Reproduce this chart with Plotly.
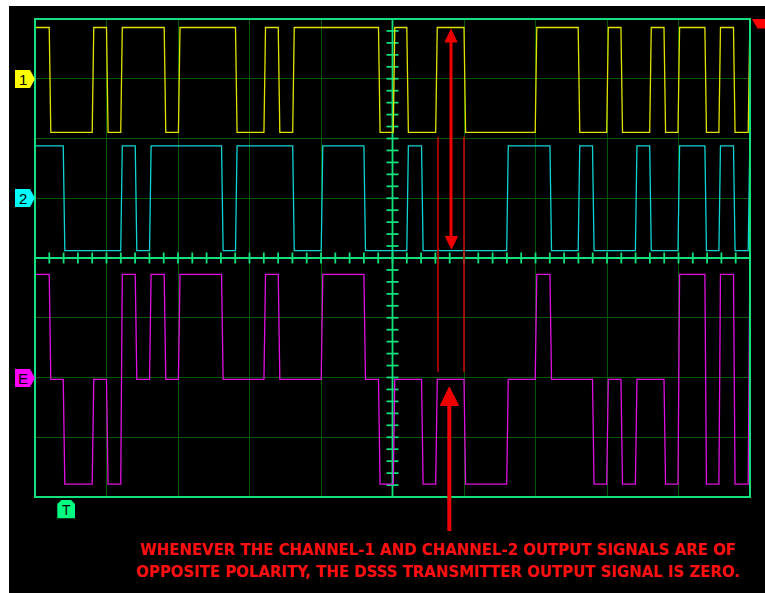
import plotly.graph_objects as go

# ---------------- data (time in divisions 0..10, levels in logic units) -------------
ch1_start = 1
ch1_edges = [0.210, 0.811, 1.011, 1.210, 1.818, 2.017, 2.815, 3.213, 3.413, 3.615,
             4.815, 5.021, 5.211, 5.615, 6.011, 7.007, 7.608, 8.007, 8.206, 8.608,
             8.808, 9.004, 9.380, 9.576, 9.780, 9.986]
ch1_levels = [-1, 1, -1, 1, -1, 1, -1, 1, -1, 1,
              -1, 1, -1, 1, -1, 1, -1, 1, -1, 1,
              -1, 1, -1, 1, -1, 1]

ch2_start = 1
ch2_edges = [0.406, 1.210, 1.413, 1.613, 2.620, 2.815, 3.615, 4.014, 4.611, 5.211,
             5.417, 6.608, 7.213, 7.608, 7.808, 8.408, 8.608, 9.004, 9.380, 9.576,
             9.780, 9.986]
ch2_levels = [-1, 1, -1, 1, -1, 1, -1, 1, -1, 1,
              -1, 1, -1, 1, -1, 1, -1, 1, -1, 1,
              -1, 1]

e_start = 2
e_edges = [0.210, 0.406, 0.811, 1.011, 1.210, 1.413, 1.613, 1.818, 2.017, 2.620,
           3.213, 3.413, 4.014, 4.611, 4.815, 5.021, 5.417, 5.615, 6.011, 6.608,
           7.007, 7.213, 7.808, 8.007, 8.206, 8.408, 8.808, 9.004, 9.380, 9.576,
           9.780, 9.986]
e_levels = [0, -2, 0, -2, 2, 0, 2, 0, 2, 0,
            2, 0, 2, 0, -2, 0, -2, 0, -2, 0,
            2, 0, -2, 0, -2, 0, -2, 2, -2, 2,
            -2, 2]

note_lines = ["WHENEVER THE CHANNEL-1 AND CHANNEL-2 OUTPUT SIGNALS ARE OF",
              "OPPOSITE POLARITY, THE DSSS TRANSMITTER OUTPUT SIGNAL IS ZERO."]

# ---------------- styling / geometry ----------------
W, H = 765, 593
L, R, T, B = 35, 750, 19, 497          # plot area in pixels
GAIN = 0.878                            # divisions per logic unit
RAMP = 0.011                            # half width of drawn edge (div)
BRIGHT = "#12e07c"
GRID = "#005800"
YEL, CYA, MAG = "#e2e200", "#10d4d4", "#e010e0"


def xp(px):
    return (px - L) / (R - L)


def yp(py):
    return (B - py) / (B - T)


def path(points):
    s = "M " + " L ".join(f"{xp(a):.5f},{yp(b):.5f}" for a, b in points)
    return s + " Z"


def wave(start, edges, levels, offset):
    xs, ys = [0.0], [offset + start * GAIN]
    cur = start
    for t, lv in zip(edges, levels):
        xs += [t - RAMP, t + RAMP]
        ys += [offset + cur * GAIN, offset + lv * GAIN]
        cur = lv
    xs.append(10.0)
    ys.append(offset + cur * GAIN)
    return xs, ys


fig = go.Figure()

# graticule centre axes with minor ticks
gx, gy = [0, 10, None, 5, 5, None], [0, 0, None, -4, 4, None]
for k in range(1, 50):
    gx += [0.2 * k, 0.2 * k, None]
    gy += [-0.092, 0.092, None]
for k in range(1, 40):
    gx += [5 - 0.084, 5 + 0.084, None]
    gy += [-4 + 0.2 * k, -4 + 0.2 * k, None]
fig.add_trace(go.Scatter(x=gx, y=gy, mode="lines", line=dict(color=BRIGHT, width=1.8),
                         hoverinfo="skip", showlegend=False))

for (st, ed, lv, off, col) in [(ch1_start, ch1_edges, ch1_levels, 2.98, YEL),
                               (ch2_start, ch2_edges, ch2_levels, 1.0, CYA),
                               (e_start, e_edges, e_levels, -2.03, MAG)]:
    x, y = wave(st, ed, lv, off)
    fig.add_trace(go.Scatter(x=x, y=y, mode="lines", line=dict(color=col, width=1.3),
                             hoverinfo="skip", showlegend=False))

shapes = []
# black screen background
shapes.append(dict(type="rect", xref="paper", yref="paper", x0=xp(9), x1=xp(766),
                   y0=yp(594), y1=yp(6), fillcolor="black", line=dict(width=0), layer="below"))
# border
shapes.append(dict(type="rect", xref="paper", yref="paper", x0=0, x1=1, y0=0, y1=1,
                   line=dict(color=BRIGHT, width=2), layer="above"))
# red cursor lines
for cx in (438, 464):
    shapes.append(dict(type="line", xref="paper", yref="paper", x0=xp(cx), x1=xp(cx),
                       y0=yp(137), y1=yp(372), line=dict(color="#d00000", width=1.5)))
# double-headed arrow
shapes.append(dict(type="line", xref="paper", yref="paper", x0=xp(451), x1=xp(451),
                   y0=yp(40), y1=yp(239), line=dict(color="#f00000", width=3)))
shapes.append(dict(type="path", xref="paper", yref="paper",
                   path=path([(451, 29.5), (445, 42), (457, 42)]),
                   fillcolor="#f00000", line=dict(color="#f00000", width=1)))
shapes.append(dict(type="path", xref="paper", yref="paper",
                   path=path([(451.5, 249), (445.5, 236.5), (457.5, 236.5)]),
                   fillcolor="#f00000", line=dict(color="#f00000", width=1)))
# upward arrow
shapes.append(dict(type="line", xref="paper", yref="paper", x0=xp(449.3), x1=xp(449.3),
                   y0=yp(404), y1=yp(531), line=dict(color="#f00000", width=4)))
shapes.append(dict(type="path", xref="paper", yref="paper",
                   path=path([(449.3, 387), (440.3, 405.5), (458.5, 405.5)]),
                   fillcolor="#f00000", line=dict(color="#f00000", width=1)))
# top-right trigger marker
shapes.append(dict(type="path", xref="paper", yref="paper",
                   path=path([(752, 19), (766, 19), (766, 28.5), (757.5, 28.5)]),
                   fillcolor="#ff0000", line=dict(width=0)))

annotations = []
# channel markers
for label, cy, col in (("1", 79, "#ffff00"), ("2", 198, "#00ffff"), ("E", 378, "#ff00ff")):
    shapes.append(dict(type="path", xref="paper", yref="paper",
                       path=path([(15, cy - 9), (30, cy - 9), (35, cy), (30, cy + 9), (15, cy + 9)]),
                       fillcolor=col, line=dict(width=0)))
    annotations.append(dict(text=label, x=xp(22.5), y=yp(cy + 0.5), xref="paper", yref="paper",
                            showarrow=False, xanchor="center", yanchor="middle",
                            font=dict(family="Liberation Sans, Arial", size=15, color="black")))
# trigger marker
shapes.append(dict(type="path", xref="paper", yref="paper",
                   path=path([(57.3, 518.3), (57.3, 504), (61.5, 500), (71, 500), (75, 504), (75, 518.3)]),
                   fillcolor="#00ff80", line=dict(width=0)))
annotations.append(dict(text="T", x=xp(66.2), y=yp(510), xref="paper", yref="paper",
                        showarrow=False, xanchor="center", yanchor="middle",
                        font=dict(family="Liberation Sans, Arial", size=14, color="black")))

# explanatory note
for line, cy in zip(note_lines, (549.5, 571.5)):
    annotations.append(dict(text="<b>" + line + "</b>", x=xp(438.5), y=yp(cy),
                            xref="paper", yref="paper", showarrow=False,
                            xanchor="center", yanchor="middle",
                            font=dict(family="Liberation Sans Narrow, Arial Narrow, DejaVu Sans Condensed, sans-serif",
                                      size=16.6, color="#ff1010")))

fig.update_layout(
    width=W, height=H,
    margin=dict(l=L, r=W - R, t=T, b=H - B, pad=0),
    paper_bgcolor="white", plot_bgcolor="black",
    xaxis=dict(range=[0, 10], dtick=1, showgrid=True, gridcolor=GRID, gridwidth=1,
               zeroline=False, showticklabels=False, ticks="", showline=False, fixedrange=True),
    yaxis=dict(range=[-4, 4], dtick=1, showgrid=True, gridcolor=GRID, gridwidth=1,
               zeroline=False, showticklabels=False, ticks="", showline=False, fixedrange=True),
    shapes=shapes, annotations=annotations, showlegend=False,
)

fig.write_html("out.html", config={"displayModeBar": False},
               post_script="document.body.style.margin='0px';document.body.style.overflow='hidden';")
